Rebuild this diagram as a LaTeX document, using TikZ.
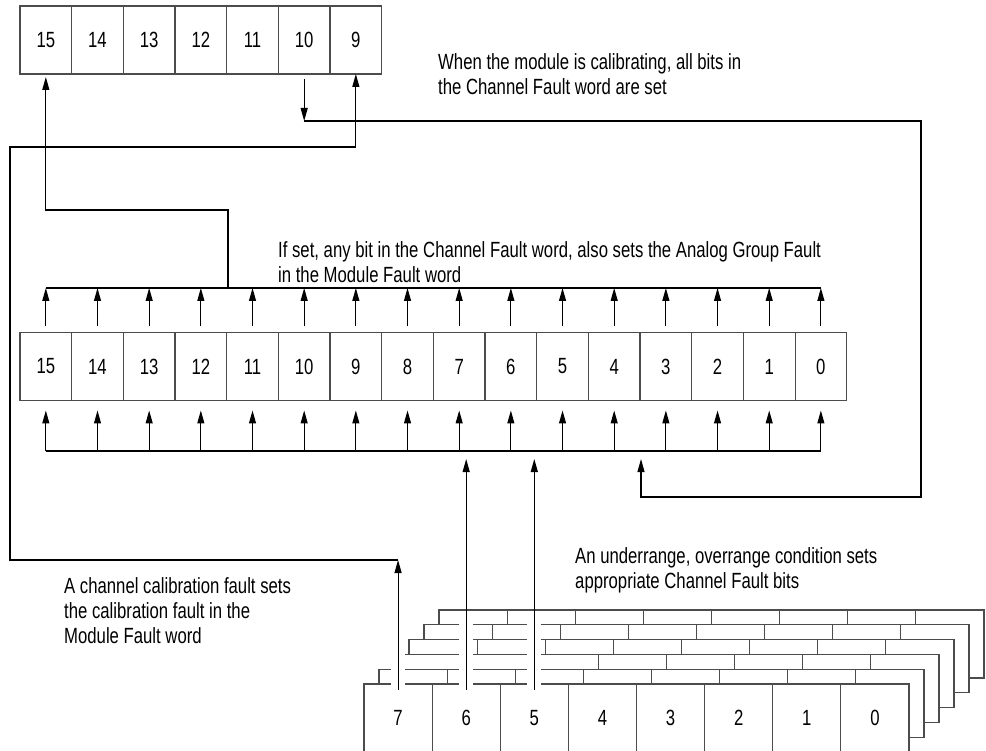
\documentclass[tikz,border=0pt]{standalone}
\usepackage{fontspec}
\setmainfont{Liberation Sans}[FakeStretch=0.76]
\usetikzlibrary{positioning, calc, arrows.meta}

\tikzset{
  bitbox/.style={draw=black!70, line width=1.1pt, fill=white, minimum width=51.67pt,
    minimum height=68pt, inner sep=0pt, outer sep=0pt},
  chbox/.style={bitbox, minimum width=68.12pt},
  wire/.style={line width=1.1pt},
  halo/.style={white, line width=14pt},
  note/.style={align=left, anchor=north west, inner sep=0pt}
}

\begin{document}
\begin{tikzpicture}[x=1pt, y=-1pt, >={Triangle[length=13pt,width=7pt]},
  font=\fontsize{22}{25}\selectfont]
\useasboundingbox (0,0) rectangle (986,751);
% module fault word
\foreach \b [count=\k from 0] in {15,14,...,9}
  \node[bitbox] (t\b) at (45.83+51.67*\k, 40) {\b};
% channel fault word
\foreach \b [count=\k from 0] in {15,14,...,0}
  \node[bitbox] (m\b) at (45.83+51.67*\k, 366.5) {\b};
% buses
\coordinate (ubus) at (0,288);
\coordinate (lbus) at (0,451);
\coordinate (ltip) at (0,459);
\draw[wire] (m15.north |- ubus) -- (m0.north |- ubus);
\draw[wire] (m15.south |- lbus) -- (m0.south |- lbus);
\foreach \b in {15,14,...,0} {
  \draw[wire,->] ([yshift=6pt]m\b.north) -- (m\b.north |- ubus);
  \draw[wire,->] (m\b.south |- lbus) -- ([yshift=-10pt]m\b.south);
}
% channel data words, stacked
\begin{scope}
\clip (0,0) rectangle (986,751);
\foreach \l in {5,4,...,1}
  \foreach \b [count=\k from 0] in {7,6,...,0}
    \node[chbox] at (398.06+68.12*\k+15*\l, 718-14.8*\l) {};
\foreach \b [count=\k from 0] in {7,6,...,0}
  \node[chbox] (s\b) at (398.06+68.12*\k, 718) {\b};
\end{scope}
\foreach \b in {7,6,5}
  \draw[halo] ([yshift=-6pt]s\b.north) -- (s\b.north |- 0,614);
% calibration fault
\coordinate (cal) at (400,560);
\coordinate (lft) at (10,147);
\draw[wire,->] ([yshift=-6pt]s7.north) -- (s7.north |- cal);
\draw[wire,->] (s7.north |- cal) -| (lft) -| (t9.south);
% under/overrange
\draw[wire,->] ([yshift=-6pt]s6.north) -- (s6.north |- ltip);
\draw[wire,->] ([yshift=-6pt]s5.north) -- (s5.north |- ltip);
% calibrating
\coordinate (rgt) at (921,121);
\coordinate (rbot) at (921,497);
\coordinate (in3) at (641,459);
\draw[wire,->] ([yshift=-5pt]t10.south) -- (t10.south |- rgt);
\draw[wire,->] (t10.south |- rgt) -- (rgt) -- (rbot) -| (in3);
% analog group fault
\coordinate (grp) at (228,210);
\draw[wire,->] (grp |- ubus) -- (grp) -| ([yshift=-3pt]t15.south);
% notes
\node[note] (calnote) at (438,53) {When the module is calibrating, all bits in\\the Channel Fault word are set};
\node[note] (grpnote) at (278,241) {If set, any bit in the Channel Fault word, also sets the Analog Group Fault\\in the Module Fault word};
\node[note] (rngnote) at (575,547) {An underrange, overrange condition sets\\appropriate Channel Fault bits};
\node[note] (cfnote) at (64,577) {A channel calibration fault sets\\the calibration fault in the\\Module Fault word};
\end{tikzpicture}
\end{document}
